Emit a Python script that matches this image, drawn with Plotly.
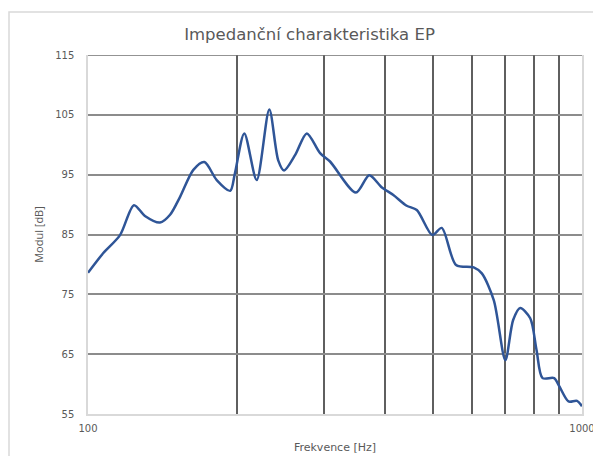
import plotly.graph_objects as go

freq_hz = [100, 107.4, 116.1, 123.9, 130.4, 139.9, 146.6, 153.6, 163.4, 172.0,
           182.2, 194.0, 198.3, 207.2, 219.5, 232.8, 242.7, 249.4, 262.7, 277.3,
           295, 309, 348.7, 371, 392.9, 415, 441.7, 463, 497.8, 520,
           556, 603.6, 626.9, 663, 699.5, 725.5, 749.6, 785.6, 809, 832,
           878, 900, 939, 977, 1000]
modul_db = [78.6, 81.9, 84.9, 89.9, 88.1, 87.0, 88.3, 91.3, 95.8, 97.1,
            94.1, 92.3, 95.2, 101.9, 94.1, 105.9, 97.4, 95.7, 98.3, 101.9,
            98.6, 97.2, 92.0, 94.9, 92.9, 91.6, 89.8, 89.1, 84.9, 86.1,
            79.9, 79.5, 78.5, 74.0, 64.0, 70.7, 72.7, 71.0, 65.7, 61.0,
            61.0, 59.6, 57.1, 57.2, 56.3]

x_tickvals = [100, 200, 300, 400, 500, 600, 700, 800, 900, 1000]
x_ticktext = ["100", "", "", "", "", "", "", "", "", "1000"]
y_tickvals = [55, 65, 75, 85, 95, 105, 115]

fig = go.Figure()
fig.add_trace(go.Scatter(
    x=freq_hz, y=modul_db, mode="lines",
    line=dict(color="#2F5597", width=2.5, shape="spline", smoothing=0.8),
    showlegend=False, hoverinfo="skip",
))

# the page body adds an 8px offset; figure is sized to fit the window
W, H = 593, 448
font_family = "Open Sans, DejaVu Sans, sans-serif"
wide_font = "DejaVu Sans, sans-serif"
fig.update_layout(
    width=W, height=H,
    margin=dict(l=80, r=19, t=47, b=42, autoexpand=False),
    paper_bgcolor="white", plot_bgcolor="white",
    font=dict(family=font_family, color="#595959", size=11),
    title=dict(text="Impedanční charakteristika EP", x=301.5 / W, xanchor="center",
               y=1 - 26 / H, yanchor="middle",
               font=dict(size=16.5, color="#595959", family=wide_font)),
    xaxis=dict(
        type="log", range=[2, 3], automargin=False,
        tickmode="array", tickvals=x_tickvals, ticktext=x_ticktext,
        showgrid=True, gridcolor="#5F5F5F", gridwidth=1.5,
        showline=True, linecolor="#D9D9D9", linewidth=1.5, mirror=False,
        ticks="", ticklabelstandoff=4, tickfont=dict(size=10, color="#595959", family=wide_font),
        title=dict(text="Frekvence [Hz]", font=dict(size=11, color="#595959", family=wide_font), standoff=11),
        zeroline=False,
    ),
    yaxis=dict(
        range=[55, 115], tickmode="array", tickvals=y_tickvals, automargin=False,
        showgrid=True, gridcolor="#8C8C8C", gridwidth=1.5,
        showline=True, linecolor="#D9D9D9", linewidth=1.5, mirror=True,
        ticks="", ticklabelstandoff=10, tickfont=dict(size=10, color="#595959", family=wide_font),
        title=dict(text="Modul [dB]", font=dict(size=11, color="#595959", family=font_family), standoff=9),
        zeroline=False,
    ),
)

# outer chart border (light gray frame)
fig.add_shape(type="rect", xref="paper", yref="paper",
              x0=(1 - 80) / 494, x1=(620 - 80) / 494,
              y0=(406 - 480) / 359, y1=(406 - 4) / 359,
              line=dict(color="#D9D9D9", width=1.5), fillcolor="rgba(0,0,0,0)",
              layer="below")
# top gridline at 115
fig.add_shape(type="line", xref="paper", yref="y", x0=0, x1=1, y0=115, y1=115,
              line=dict(color="#6F6F6F", width=1.5))

fig.write_html("out.html")
